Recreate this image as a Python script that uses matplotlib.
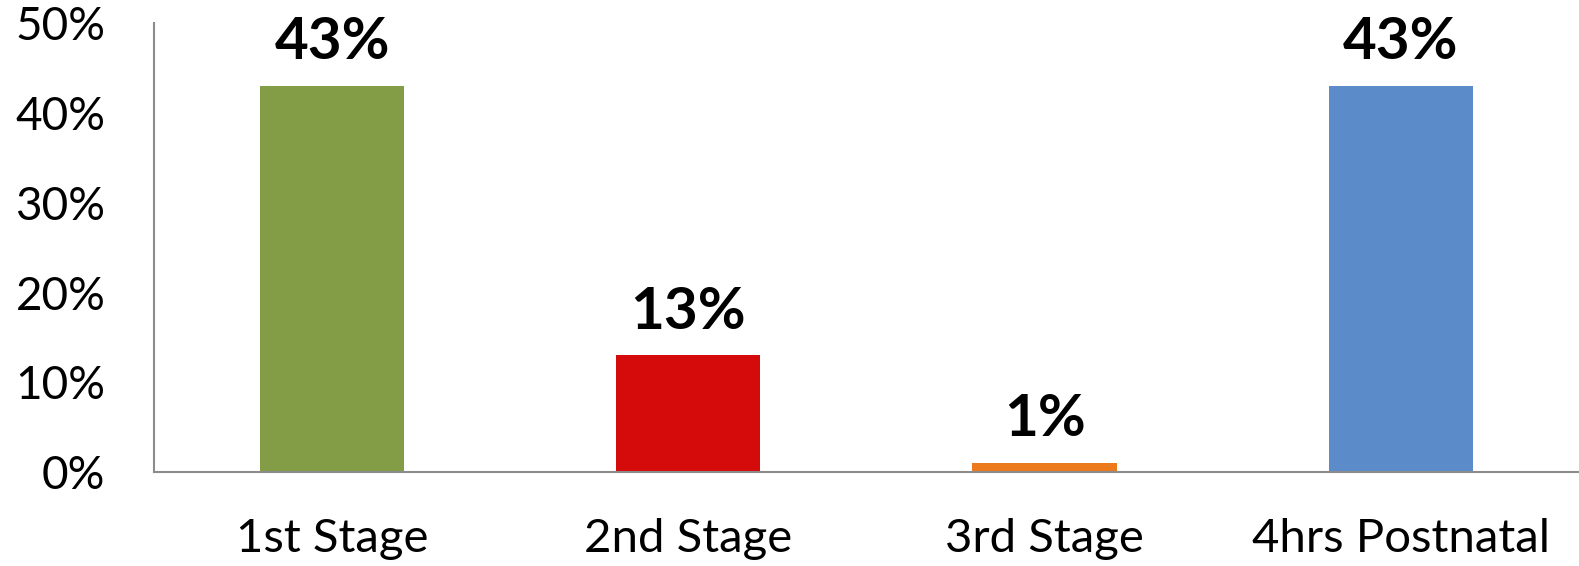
import matplotlib
matplotlib.use("Agg")
import matplotlib.pyplot as plt
from matplotlib.ticker import PercentFormatter

categories = ["1st Stage", "2nd Stage", "3rd Stage", "4hrs Postnatal"]
values = [0.43, 0.13, 0.01, 0.43]
labels = ["43%", "13%", "1%", "43%"]
colors = ["#839D46", "#D50B0B", "#EC7A1C", "#5B8BC8"]
yticks = [0, 0.1, 0.2, 0.3, 0.4, 0.5]

plt.rcParams['font.family'] = ['Lato', 'DejaVu Sans']

fig = plt.figure(figsize=(15.79, 5.66), dpi=100)
ax = fig.add_axes([0.0975, 0.166, 0.9025, 0.793])
x = range(len(categories))
bars = ax.bar(x, values, width=0.405, color=colors)
ax.set_xlim(-0.5, len(categories) - 0.5)
ax.set_ylim(0, 0.5)
ax.set_yticks(yticks)
ax.yaxis.set_major_formatter(PercentFormatter(1.0, decimals=0))
ax.set_xticks(list(x))
ax.set_xticklabels(categories)
ax.tick_params(axis='y', length=0, labelsize=33, pad=35)
ax.tick_params(axis='x', length=0, labelsize=34, pad=33)
for s in ['top', 'right']:
    ax.spines[s].set_visible(False)
for s in ['left', 'bottom']:
    ax.spines[s].set_color('#8C8C8C')
    ax.spines[s].set_linewidth(1.5)
for b, lab in zip(bars, labels):
    ax.annotate(lab, (b.get_x() + b.get_width() / 2, b.get_height()),
                xytext=(0, 12), textcoords='offset points',
                ha='center', va='bottom', fontsize=42, fontweight='bold')
fig.savefig("out.png", dpi=100)
